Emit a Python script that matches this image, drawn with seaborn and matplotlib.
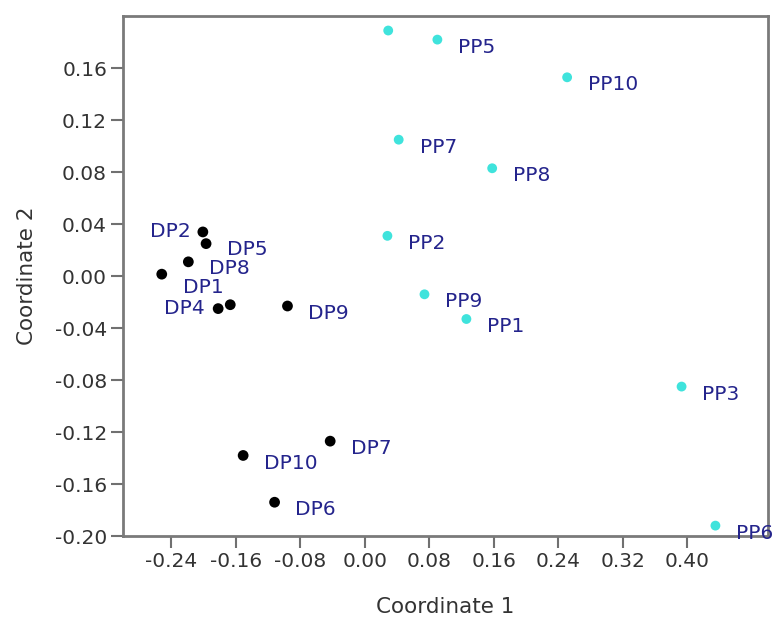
import matplotlib
matplotlib.use("Agg")
import matplotlib.pyplot as plt
import seaborn as sns
import pandas as pd
import numpy as np

# ---- data ----
dp_labels = ["DP1", "DP2", "DP3", "DP4", "DP5", "DP6", "DP7", "DP8", "DP9", "DP10"]
dp_x = [-0.252, -0.201, -0.167, -0.182, -0.197, -0.112, -0.043, -0.219, -0.096, -0.151]
dp_y = [0.0015, 0.034, -0.022, -0.025, 0.025, -0.174, -0.127, 0.011, -0.023, -0.138]

pp_labels = ["PP1", "PP2", "PP3", "PP4", "PP5", "PP6", "PP7", "PP8", "PP9", "PP10"]
pp_x = [0.126, 0.028, 0.393, 0.029, 0.090, 0.435, 0.042, 0.158, 0.074, 0.251]
pp_y = [-0.033, 0.031, -0.085, 0.189, 0.182, -0.192, 0.105, 0.083, -0.014, 0.153]

x_ticks = [-0.24, -0.16, -0.08, 0.00, 0.08, 0.16, 0.24, 0.32, 0.40]
y_ticks = [-0.20, -0.16, -0.12, -0.08, -0.04, 0.00, 0.04, 0.08, 0.12, 0.16]

# labels not visible in the reference (overlapped)
hidden = {"DP3", "PP4"}

df = pd.DataFrame({
    "x": dp_x + pp_x,
    "y": dp_y + pp_y,
    "label": dp_labels + pp_labels,
    "group": ["DP"] * len(dp_x) + ["PP"] * len(pp_x),
})

sns.set_theme(style="white")
plt.rcParams["font.family"] = ["DejaVu Sans"]

fig = plt.figure(figsize=(7.74, 6.24), dpi=100)
ax = fig.add_axes([0.159, 0.141, 0.833, 0.833])

sns.scatterplot(data=df[df.group == "DP"], x="x", y="y", color="black", s=60,
                edgecolor="none", ax=ax, legend=False, zorder=3)
sns.scatterplot(data=df[df.group == "PP"], x="x", y="y", color="#3fe3dc", s=50,
                edgecolor="none", ax=ax, legend=False, zorder=3)

# label placement (offsets in points)
default_off = (15, -5.5)
special = {"DP2": (-9, 0, "right"), "DP4": (-10, 0, "right"), "DP1": (15, -9.5, "left"),
           "DP5": (15, -4, "left"), "DP8": (15, -4.5, "left")}
lab_color = "#24248c"
lab_fs = 14.5
for _, r in df.iterrows():
    if r["label"] in hidden:
        continue
    if r["label"] in special:
        dx, dy, ha = special[r["label"]]
    else:
        dx, dy = default_off
        ha = "left"
    ax.annotate(r["label"], (r["x"], r["y"]), xytext=(dx, dy), textcoords="offset points",
                ha=ha, va="center", color=lab_color, fontsize=lab_fs,
                annotation_clip=False, zorder=4)

ax.set_xlim(-0.30, 0.50)
ax.set_ylim(-0.20, 0.20)
ax.set_xticks(x_ticks)
ax.set_yticks(y_ticks)
ax.set_xticklabels([f"{v:.2f}" for v in x_ticks])
ax.set_yticklabels([f"{v:.2f}" for v in y_ticks])
ax.tick_params(axis="both", direction="out", length=8.5, width=1.5, color="#707070",
               labelsize=14.5, labelcolor="#333333", bottom=True, left=True, pad=3)
for sp in ax.spines.values():
    sp.set_color("#7a7a7a")
    sp.set_linewidth(2)
ax.set_xlabel("Coordinate 1", fontsize=15.5, color="#333333", labelpad=19)
ax.set_ylabel("Coordinate 2", fontsize=15.5, color="#333333", labelpad=13)
ax.grid(False)

fig.savefig("out.png", dpi=100)
